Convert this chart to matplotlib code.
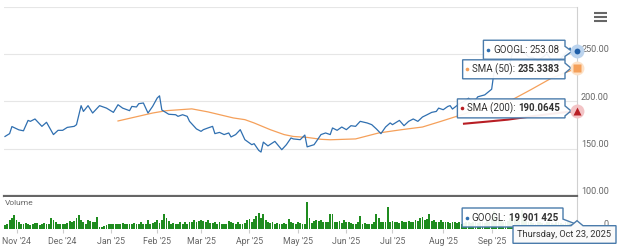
import numpy as np
import pandas as pd
import matplotlib
matplotlib.use("Agg")
import matplotlib.pyplot as plt
from matplotlib.patches import Polygon

plt.rcParams['font.family'] = ['Roboto', 'DejaVu Sans']

# ---------------- data ----------------
market_holidays = ['2024-11-28', '2024-12-25', '2025-01-01', '2025-01-09', '2025-01-20',
                   '2025-02-17', '2025-04-18', '2025-05-26', '2025-06-19', '2025-07-04',
                   '2025-09-01']
first_session = '2024-10-25'
last_session = '2025-10-23'

price_dates = [
    '2024-10-25', '2024-10-29', '2024-10-30', '2024-11-04', '2024-11-06', '2024-11-08',
    '2024-11-11', '2024-11-13', '2024-11-18', '2024-11-20', '2024-11-25', '2024-11-27',
    '2024-12-02', '2024-12-04', '2024-12-09', '2024-12-10', '2024-12-12', '2024-12-13',
    '2024-12-17', '2024-12-19', '2024-12-24', '2024-12-30', '2025-01-03', '2025-01-07',
    '2025-01-10', '2025-01-15', '2025-01-16', '2025-01-21', '2025-01-22', '2025-01-24',
    '2025-01-28', '2025-01-30', '2025-02-03', '2025-02-04', '2025-02-05', '2025-02-10',
    '2025-02-13', '2025-02-14', '2025-02-19', '2025-02-21', '2025-02-24', '2025-02-27',
    '2025-03-03', '2025-03-04', '2025-03-06', '2025-03-10', '2025-03-11', '2025-03-13',
    '2025-03-17', '2025-03-19', '2025-03-20', '2025-03-24', '2025-03-26', '2025-03-28',
    '2025-04-02', '2025-04-03', '2025-04-07', '2025-04-08', '2025-04-09', '2025-04-11',
    '2025-04-16', '2025-04-22', '2025-04-24', '2025-04-28', '2025-04-29', '2025-05-02',
    '2025-05-06', '2025-05-07', '2025-05-12', '2025-05-13', '2025-05-15', '2025-05-19',
    '2025-05-21', '2025-05-22', '2025-05-27', '2025-05-29', '2025-06-02', '2025-06-04',
    '2025-06-06', '2025-06-10', '2025-06-13', '2025-06-17', '2025-06-20', '2025-06-24',
    '2025-06-26', '2025-06-30', '2025-07-01', '2025-07-07', '2025-07-09', '2025-07-11',
    '2025-07-15', '2025-07-17', '2025-07-21', '2025-07-23', '2025-07-25', '2025-07-29',
    '2025-07-30', '2025-08-01', '2025-08-05', '2025-08-06', '2025-08-07', '2025-08-12',
    '2025-08-14', '2025-08-18', '2025-08-20', '2025-08-22', '2025-08-27', '2025-08-29',
    '2025-09-02', '2025-09-03', '2025-09-05', '2025-09-09', '2025-09-12', '2025-09-15',
    '2025-09-19', '2025-09-24', '2025-09-26', '2025-09-30', '2025-10-06', '2025-10-10',
    '2025-10-14', '2025-10-17', '2025-10-20', '2025-10-21', '2025-10-23']
price_values = [
    163.0, 166.0, 173.5, 170.0, 169.0, 180.0,
    179.0, 181.5, 173.7, 178.0, 165.0, 169.5,
    169.5, 172.6, 173.7, 175.5, 195.6, 189.5,
    195.6, 187.8, 195.6, 193.0, 188.5, 196.6,
    193.0, 190.3, 194.8, 194.2, 197.7, 198.4,
    187.8, 194.8, 203.7, 206.0, 191.0, 186.5,
    186.0, 184.3, 186.0, 184.3, 179.0, 171.0,
    168.4, 170.2, 172.0, 173.7, 166.0, 167.3,
    165.0, 166.7, 162.5, 165.0, 170.2, 159.6,
    154.3, 155.4, 148.3, 146.5, 157.0, 153.0,
    157.8, 149.0, 154.3, 161.4, 160.4, 159.6,
    164.5, 152.0, 154.3, 157.8, 165.0, 166.7,
    165.0, 172.0, 169.5, 173.0, 170.2, 174.4,
    173.7, 179.0, 177.3, 175.5, 171.0, 166.0,
    173.0, 177.3, 175.5, 180.0, 174.4, 179.0,
    181.5, 179.0, 183.6, 186.0, 188.5, 189.5,
    193.0, 191.3, 194.8, 195.6, 192.0, 197.7,
    200.0, 203.5, 198.5, 205.0, 207.0, 211.0,
    213.0, 230.7, 235.0, 234.4, 240.8, 251.2,
    254.7, 247.1, 246.5, 243.1, 250.4, 236.6,
    245.5, 253.3, 256.6, 250.5, 253.08]

sma50_dates = ['2025-01-07', '2025-01-30', '2025-02-07', '2025-02-25', '2025-03-06',
               '2025-03-21', '2025-03-28', '2025-04-03', '2025-04-14', '2025-04-23',
               '2025-04-29', '2025-05-07', '2025-05-15', '2025-05-21', '2025-06-06',
               '2025-06-23', '2025-07-08', '2025-07-21', '2025-07-31', '2025-08-13',
               '2025-08-29', '2025-09-15', '2025-09-25', '2025-10-08', '2025-10-23']
sma50_values = [179.4, 187.8, 190.3, 192.2, 189.0,
                182.6, 180.8, 177.3, 170.2, 165.0,
                163.0, 162.0, 160.0, 159.5, 160.4,
                166.7, 170.2, 173.0, 179.0, 186.0,
                194.8, 202.0, 212.5, 224.8, 235.3383]

sma200_dates = ['2025-08-14', '2025-08-28', '2025-09-11', '2025-09-25', '2025-10-09', '2025-10-23']
sma200_values = [176.5, 178.7, 180.8, 184.2, 187.3, 190.0645]

# daily volume (millions of shares), one value per trading session
volume_millions = [
    15, 22, 35, 46, 55, 38, 27, 22, 20, 26,
    22, 18, 22, 25, 24, 18, 22, 25, 19, 22,
    46, 35, 27, 22, 19, 22, 22, 25, 32, 28,
    32, 46, 55, 38, 28, 22, 38, 32, 28, 30,
    49, 10, 8, 14, 16, 19, 22, 19, 22, 19,
    22, 25, 19, 22, 19, 22, 25, 22, 19, 27,
    22, 19, 35, 22, 24, 30, 38, 25, 35, 59,
    46, 32, 22, 24, 19, 22, 27, 22, 30, 22,
    27, 30, 35, 30, 32, 38, 32, 27, 38, 25,
    24, 27, 22, 27, 22, 19, 22, 32, 30, 24,
    22, 27, 22, 19, 24, 35, 40, 30, 40, 51,
    65, 45, 59, 38, 30, 24, 27, 22, 24, 22,
    22, 24, 22, 40, 27, 24, 22, 27, 24, 22,
    19, 108, 46, 24, 32, 35, 32, 35, 30, 27,
    30, 62, 62, 30, 27, 32, 24, 38, 27, 30,
    24, 22, 22, 30, 51, 22, 24, 22, 19, 22,
    30, 62, 45, 30, 27, 30, 89, 30, 32, 28,
    27, 24, 32, 30, 27, 32, 27, 30, 38, 32,
    43, 49, 38, 40, 62, 32, 38, 30, 27, 35,
    30, 27, 30, 24, 27, 30, 24, 27, 22, 24,
    27, 30, 24, 27, 30, 24, 30, 27, 24, 35,
    30, 40, 75, 45, 35, 32, 28, 30, 32, 45,
    55, 40, 35, 33, 78, 38, 32, 30, 28, 25,
    22, 30, 28, 25, 22, 30, 28, 25, 22, 30,
    28, 25, 22, 30, 28, 25, 22, 20, 19.901425]

# month ticks visible on the axis (the Oct '25 tick sits under the date label)
month_starts = ['2024-11-01', '2024-12-01', '2025-01-01', '2025-02-01', '2025-03-01',
                '2025-04-01', '2025-05-01', '2025-06-01', '2025-07-01', '2025-08-01',
                '2025-09-01']
month_labels = ["Nov '24", "Dec '24", "Jan '25", "Feb '25", "Mar '25", "Apr '25",
                "May '25", "Jun '25", "Jul '25", "Aug '25", "Sep '25"]
price_ticks = [100, 150, 200, 250]
price_grid = [100, 150, 200, 250, 300]

last_price = 253.08
last_sma50 = 235.3383
last_sma200 = 190.0645
last_volume_text = '19 901 425'
last_date_label = 'Thursday, Oct 23, 2025'

# ---------------- styling ----------------
W, H = 620, 249
C_PRICE = '#2f6fb0'
C_SMA50 = '#f5a05a'
C_SMA200 = '#b81e24'
C_VOL = '#1f8c1f'
C_BORDER = '#4a7bab'
C_LABEL = '#666666'
C_TEXT = '#333333'

sessions = pd.bdate_range(first_session, last_session, freq='C', holidays=market_holidays)


def pos(dates):
    return sessions.searchsorted(pd.to_datetime(dates))


n = len(sessions)
fig = plt.figure(figsize=(W / 100, H / 100), dpi=100)
fig.patch.set_facecolor('white')

left_px, right_px = 4, 577
x0 = -(5 - left_px) / ((right_px - 5) / (n - 1))
ax = fig.add_axes([left_px / W, 1 - 196 / H, (right_px - left_px) / W, (196 - 7) / H])
axv = fig.add_axes([left_px / W, 1 - 229 / H, (right_px - left_px) / W, (229 - 197) / H])

# price pane
ax.plot(pos(price_dates), price_values, color=C_PRICE, lw=0.9, zorder=3)
ax.plot(pos(sma50_dates), sma50_values, color=C_SMA50, lw=0.9, zorder=2)
ax.plot(pos(sma200_dates), sma200_values, color=C_SMA200, lw=1.5, zorder=2)
ax.set_xlim(x0, n - 1)
ax.set_ylim(100, 300)
ax.set_yticks(price_grid)
ax.grid(axis='y', color='#e6e6e6', lw=0.8)
ax.tick_params(left=False, right=False, bottom=False, labelleft=False, labelbottom=False)
for s in ['top', 'left']:
    ax.spines[s].set_visible(False)
ax.spines['right'].set_color('#d0d0d0')
ax.spines['right'].set_linewidth(0.8)
ax.spines['bottom'].set_color('#666666')
ax.spines['bottom'].set_linewidth(1.6)
for v in price_ticks:
    ax.annotate('%.2f' % v, xy=(1, v), xycoords=('axes fraction', 'data'),
                xytext=(23.0, 3.2), textcoords='offset points', ha='right', va='center',
                fontsize=6.5, color=C_LABEL, annotation_clip=False)

# volume pane
vol_x = np.arange(len(volume_millions))
axv.bar(vol_x, volume_millions, width=0.8, color=C_VOL, lw=0)
axv.set_xlim(x0, n - 1)
axv.set_ylim(0, 130)
axv.set_yticks([])
for s in ['top', 'left', 'bottom']:
    axv.spines[s].set_visible(False)
axv.spines['right'].set_color('#d0d0d0')
axv.spines['right'].set_linewidth(0.8)
axv.set_xticks(pos(month_starts))
axv.set_xticklabels(month_labels)
axv.tick_params(axis='x', length=3, width=0.8, color='#cccccc', pad=2.5,
                labelsize=6.3, labelcolor=C_LABEL)
axv.annotate('0', xy=(1, 0), xycoords=('axes fraction', 'data'),
             xytext=(23.0, 3.6), textcoords='offset points', ha='right', va='center',
             fontsize=6.5, color=C_LABEL, annotation_clip=False)

# ---------------- overlay (labels, markers) ----------------
ov = fig.add_axes([0, 0, 1, 1], zorder=10)
ov.set_xlim(0, W)
ov.set_ylim(H, 0)
ov.axis('off')
ov.patch.set_alpha(0)
fig.canvas.draw()
renderer = fig.canvas.get_renderer()


def to_px(a, x, y):
    d = a.transData.transform((x, y))
    return ov.transData.inverted().transform(d)


ov.text(4.5, 202.5, 'Volume', fontsize=6, color=C_LABEL, va='center', ha='left')
for yy in (12.7, 16.7, 20.7):
    ov.plot([594, 607], [yy, yy], color='#666666', lw=1.5, solid_capstyle='butt')


def callout(parts, dot_color, right, cy, anchor, h=19.0, padx=5, fs=7.0):
    x = right - padx
    for i, (txt, wt) in enumerate(reversed(parts)):
        t = ov.text(x, cy, txt, ha='right', va='center', color=C_TEXT,
                    fontweight=wt, fontsize=fs, zorder=13)
        w = t.get_window_extent(renderer).width
        x -= w + (2.6 if i < len(parts) - 1 else 0)
    ov.plot([x - 5], [cy], 'o', ms=2.6, color=dot_color, mec='none', zorder=13)
    left = x - 9.5
    top, bot = cy - h / 2, cy + h / 2
    axp, ayp = anchor
    pts = [(left, top), (right, top)]
    if top < ayp < bot:
        pts += [(right, max(top, ayp - 5)), (axp, ayp), (right, min(bot, ayp + 5))]
        pts += [(right, bot)]
    else:
        pts += [(right, bot - 6), (axp, ayp), (right - 6, bot)]
    pts += [(left, bot)]
    ov.add_patch(Polygon(pts, closed=True, fc=(1, 1, 1, 0.93), ec=C_BORDER, lw=1.0,
                         zorder=12, joinstyle='miter'))


last = n - 1
px_p = to_px(ax, last, last_price)
px_50 = to_px(ax, last, last_sma50)
px_200 = to_px(ax, last, last_sma200)
px_v = to_px(axv, len(volume_millions) - 1, volume_millions[-1])

right_edge = px_p[0] - 12
callout([('GOOGL:', 'normal'), ('%.2f' % last_price, 'normal')], C_PRICE,
        right_edge, px_p[1] - 1.6, (px_p[0] - 5, px_p[1]))
callout([('SMA (50):', 'normal'), ('%.4f' % last_sma50, 'bold')], C_SMA50,
        right_edge, px_50[1] + 1.2, (px_50[0] - 6, px_50[1]))
callout([('SMA (200):', 'normal'), ('%.4f' % last_sma200, 'bold')], C_SMA200,
        right_edge, px_200[1] - 2.5, (px_200[0] - 6, px_200[1]))
callout([('GOOGL:', 'normal'), (last_volume_text, 'bold')], C_PRICE,
        right_edge - 2, 217.5, (px_v[0] - 1, px_v[1]))

# markers with halos
ov.plot(*px_p, 'o', ms=10, color='#bcd4ee', mec='none', zorder=14)
ov.plot(*px_p, 'o', ms=4.2, color='#1f5fa8', mec='none', zorder=15)
ov.plot(*px_50, 'o', ms=10, color='#fde2c8', mec='none', zorder=14)
ov.plot(*px_50, 's', ms=6.2, color=C_SMA50, mec='none', zorder=15)
ov.plot(*px_200, 'o', ms=10, color='#f3c4c6', mec='none', zorder=14)
ov.plot(*px_200, '^', ms=6.2, color=C_SMA200, mec='none', zorder=15)

# date label at bottom right
dl, dr, dt, db = 513, 616, 225.7, 243.3
ax_date = px_v[0]
dpts = [(dl, dt), (ax_date - 6, dt), (ax_date, dt - 5), (ax_date + 6, dt), (dr, dt), (dr, db), (dl, db)]
ov.add_patch(Polygon(dpts, closed=True, fc='#fafafa', ec=C_BORDER, lw=1.0, zorder=12))
ov.text((dl + dr) / 2, (dt + db) / 2 + 0.3, last_date_label, ha='center', va='center',
        fontsize=6.7, color=C_TEXT, zorder=13)

fig.savefig('out.png', dpi=100)
